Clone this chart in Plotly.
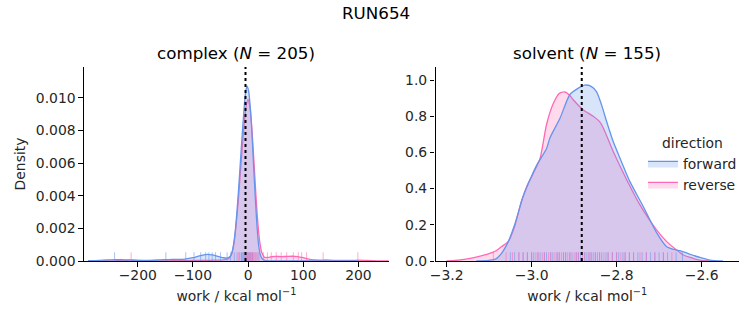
import plotly.graph_objects as go

# ---------------- data ----------------
suptitle = "RUN654"
panel_titles = ["complex (<i>N</i> = 205)", "solvent (<i>N</i> = 155)"]
directions = ["forward", "reverse"]
colors = {"forward": "#6495ED", "reverse": "#FF69B4"}
fills = {"forward": "rgba(100,149,237,0.25)", "reverse": "rgba(255,105,180,0.25)"}

# complex KDE curves
cx_fwd = [-290, -270, -255, -240, -225, -200, -180, -160, -145, -130, -115, -100, -90, -80, -74, -65, -55, -45,
          -38, -32, -28, -24, -20, -16, -12, -8, -5, -2, 1, 4, 7, 10, 13, 16, 19, 22, 26, 32, 50, 100, 150, 200]
cy_fwd = [0.00002, 0.00004, 0.00007, 0.00009, 0.00007, 0.00004, 0.00004, 0.00007, 0.00009, 0.0001, 0.00012,
          0.0002, 0.0003, 0.00038, 0.0004, 0.00037, 0.00028, 0.0002, 0.00018, 0.0003, 0.0007, 0.0016, 0.0031,
          0.0050, 0.0071, 0.0090, 0.0102, 0.0107, 0.0104, 0.0094, 0.0078, 0.0058, 0.0039, 0.0022, 0.0010, 0.0004,
          0.00012, 0.00003, 0.00001, 0.0, 0.0, 0.0]
cx_rev = [-265, -240, -225, -212, -200, -180, -150, -120, -100, -80, -60, -45, -35, -30, -26, -22, -18, -14, -10,
          -6, -3, 0, 3, 6, 9, 12, 15, 18, 21, 25, 30, 36, 42, 50, 60, 70, 80, 90, 100, 110, 120, 130, 140, 155,
          175, 190, 200, 215, 235, 255]
cy_rev = [0.00001, 0.00002, 0.00004, 0.00006, 0.00004, 0.00002, 0.00001, 0.00002, 0.00003, 0.00004, 0.00005,
          0.00007, 0.00015, 0.0004, 0.0010, 0.0021, 0.0036, 0.0054, 0.0072, 0.0088, 0.0096, 0.0099, 0.0095,
          0.0085, 0.0070, 0.0053, 0.0036, 0.0022, 0.0012, 0.0005, 0.00022, 0.00022, 0.00026, 0.00028, 0.00027,
          0.00028, 0.00029, 0.00027, 0.0002, 0.00011, 0.00006, 0.00005, 0.00006, 0.00004, 0.00003, 0.00004,
          0.00005, 0.00003, 0.00001, 0.0]

# solvent KDE curves
sx_fwd = [-3.13, -3.10, -3.085, -3.07, -3.055, -3.04, -3.02, -3.0, -2.988, -2.965, -2.957, -2.933, -2.91,
          -2.89, -2.875, -2.86, -2.847, -2.835, -2.824, -2.808, -2.792, -2.769, -2.737, -2.706, -2.682, -2.665,
          -2.651, -2.63, -2.604, -2.58, -2.55]
sy_fwd = [0.0, 0.004, 0.01, 0.045, 0.107, 0.2, 0.356, 0.47, 0.53, 0.62, 0.68, 0.79, 0.92, 0.955, 0.972, 0.965,
          0.935, 0.86, 0.775, 0.66, 0.568, 0.44, 0.30, 0.157, 0.079, 0.064, 0.057, 0.04, 0.02, 0.005, 0.0]
sx_rev = [-3.20, -3.18, -3.155, -3.133, -3.102, -3.085, -3.071, -3.055, -3.04, -3.024, -3.01, -2.996, -2.98,
          -2.965, -2.949, -2.935, -2.923, -2.91, -2.902, -2.879, -2.855, -2.84, -2.831, -2.808, -2.776, -2.745,
          -2.706, -2.682, -2.659, -2.643, -2.62, -2.604, -2.58]
sy_rev = [0.001, 0.003, 0.01, 0.02, 0.039, 0.055, 0.079, 0.107, 0.19, 0.33, 0.42, 0.485, 0.568, 0.753, 0.87,
          0.925, 0.934, 0.915, 0.891, 0.836, 0.80, 0.77, 0.734, 0.605, 0.448, 0.31, 0.172, 0.107, 0.061, 0.033,
          0.015, 0.005, 0.0]

# rug sample positions (estimated)
rug_c_fwd = [-242, -149, -113, -98, -86, -77, -71, -65, -59, -50, -38, -32, -25, -20, -15, -12, -10, -8, -6,
             -4, -2, 0, 2, 4, 6, 8, 10, 14, 18]
rug_c_rev = [-212, -17, -12, -8, -5, -3, -1, 1, 3, 5, 8, 12, 16, 20, 28, 35, 42, 51, 60, 70, 82, 91, 97, 106,
             136, 199]
rug_s_fwd = [-3.05, -3.04, -3.03, -3.02, -3.01, -3.00, -2.995, -2.985, -2.98, -2.97, -2.965, -2.955, -2.95,
             -2.94, -2.935, -2.925, -2.92, -2.91, -2.905, -2.895, -2.89, -2.885, -2.875, -2.87, -2.865, -2.86,
             -2.855, -2.85, -2.845, -2.84, -2.835, -2.825, -2.82, -2.81, -2.80, -2.795, -2.785, -2.78, -2.77,
             -2.76, -2.75, -2.74, -2.73, -2.72, -2.71, -2.70, -2.69, -2.68, -2.66, -2.645]
rug_s_rev = [-3.09, -3.06, -3.045, -3.03, -3.02, -3.01, -3.0, -2.99, -2.985, -2.975, -2.97, -2.96, -2.955,
             -2.945, -2.94, -2.935, -2.93, -2.925, -2.92, -2.915, -2.91, -2.9, -2.895, -2.89, -2.88, -2.875,
             -2.865, -2.86, -2.85, -2.84, -2.83, -2.82, -2.81, -2.8, -2.79, -2.78, -2.77, -2.76, -2.745, -2.73,
             -2.71, -2.69, -2.67]

center_lines = [-4.7, -2.882]
x_label = "work / kcal mol<sup>−1</sup>"
y_label = "Density"

# ---------------- figure ----------------
FONT = "DejaVu Sans, Liberation Sans, sans-serif"
TXT = "#262626"
FS = 13.9
TFS = 16.7
fig = go.Figure()

curves = [
    ("x", "y", {"forward": (cx_fwd, cy_fwd), "reverse": (cx_rev, cy_rev)}),
    ("x2", "y2", {"forward": (sx_fwd, sy_fwd), "reverse": (sx_rev, sy_rev)}),
]
for i, (xa, ya, d) in enumerate(curves):
    for dname in ["reverse", "forward"]:
        xs, ys = d[dname]
        fig.add_trace(go.Scatter(
            x=xs, y=ys, xaxis=xa, yaxis=ya, mode="lines",
            line=dict(color=colors[dname], width=1.3, shape="spline", smoothing=0.6),
            fill="tozeroy", fillcolor=fills[dname], name=dname,
            legendgroup=dname, showlegend=(i == 1),
            legendrank=1 if dname == "forward" else 2,
        ))

shapes = []
rugs = [("x", rug_c_fwd, "forward"), ("x", rug_c_rev, "reverse"),
        ("x2", rug_s_fwd, "forward"), ("x2", rug_s_rev, "reverse")]
for xa, vals, dname in rugs:
    ya = "y" if xa == "x" else "y2"
    for v in vals:
        shapes.append(dict(type="line", xref=xa, yref=f"{ya} domain", x0=v, x1=v, y0=0, y1=0.045,
                           line=dict(color=colors[dname], width=1), opacity=0.55))
for xa, v in zip(["x", "x2"], center_lines):
    ya = "y" if xa == "x" else "y2"
    shapes.append(dict(type="line", xref=xa, yref=f"{ya} domain", x0=v, x1=v, y0=0, y1=1,
                       line=dict(color="black", width=2, dash="dot")))

W, H = 753, 325
ML, MR, MT, MB = 84.3, 14, 67.3, 64
PW = W - ML - MR
PH = H - MT - MB


def px_x(px):
    return (px - ML) / PW


def px_y(py):
    return (H - MB - py) / PH


dom1 = [0, px_x(389)]
dom2 = [px_x(435.7), 1]
ydom = [0, 1]

axis_common = dict(showline=True, linecolor="black", linewidth=1.2, ticks="outside", ticklen=4.5,
                   tickwidth=1.1, tickcolor="black", showgrid=False, zeroline=False, automargin=False,
                   tickfont=dict(size=FS, color=TXT, family=FONT))

fig.update_layout(
    width=W, height=H, margin=dict(l=ML, r=MR, t=MT, b=MB, autoexpand=False),
    plot_bgcolor="white", paper_bgcolor="white",
    font=dict(family=FONT, color=TXT, size=FS),
    shapes=shapes,
    xaxis=dict(domain=dom1, range=[-297.4, 255.1], dtick=100, anchor="y", ticklabelstandoff=-3,
               title=dict(text=x_label, standoff=8, font=dict(size=FS)), **axis_common),
    yaxis=dict(domain=ydom, range=[0, 0.01188], dtick=0.002, tickformat=".3f", anchor="x",
               title=dict(text=y_label, standoff=6, font=dict(size=FS)), **axis_common),
    xaxis2=dict(domain=dom2, range=[-3.226, -2.512], dtick=0.2, tick0=-3.2, tickformat=".1f", anchor="y2",
                ticklabelstandoff=-3,
                title=dict(text=x_label, standoff=8, font=dict(size=FS)), **axis_common),
    yaxis2=dict(domain=ydom, range=[0, 1.072], dtick=0.2, tickformat=".1f", anchor="x2", **axis_common),
    legend=dict(x=px_x(643), y=px_y(130), xanchor="left", yanchor="top", bgcolor="rgba(0,0,0,0)",
                title=dict(text="direction", side="top center", font=dict(size=FS)),
                font=dict(size=FS), itemwidth=30, tracegroupgap=0),
    annotations=[
        dict(text=suptitle, x=px_x(376.5), y=px_y(13), xref="paper", yref="paper", showarrow=False,
             xanchor="center", yanchor="middle", font=dict(size=TFS, color="black")),
        dict(text=panel_titles[0], x=px_x((84.3 + 389) / 2), y=px_y(53), xref="paper", yref="paper",
             xanchor="center", yanchor="middle", showarrow=False, font=dict(size=TFS, color="black")),
        dict(text=panel_titles[1], x=px_x((435.7 + 739) / 2), y=px_y(53), xref="paper", yref="paper",
             xanchor="center", yanchor="middle", showarrow=False, font=dict(size=TFS, color="black")),
    ],
)

fig.write_html("out.html")
